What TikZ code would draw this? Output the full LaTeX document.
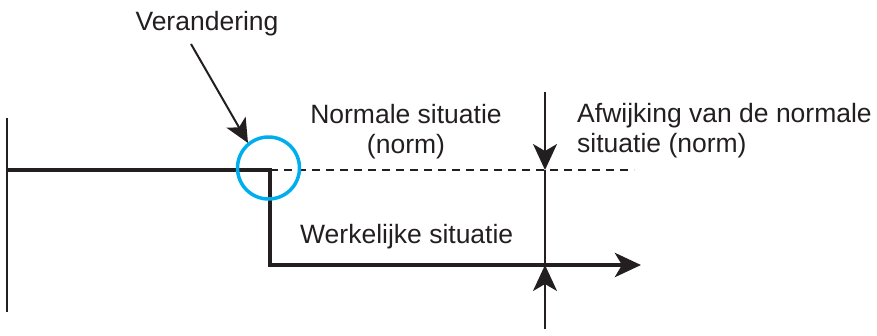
\documentclass[tikz,border=0pt]{standalone}
\usepackage{fontspec}
\setmainfont{Liberation Sans}
\usetikzlibrary{arrows.meta}
\definecolor{ringblue}{HTML}{00AEEF}
\definecolor{ink}{HTML}{231F20}
\tikzset{
  lbl/.style={font=\fontsize{26.5}{30}\selectfont, text=ink, inner sep=0pt},
  thinline/.style={draw=ink, line width=2pt},
  thickline/.style={draw=ink, line width=4.8pt, line join=miter},
  normline/.style={draw=ink, line width=1.6pt, dash pattern=on 8pt off 6pt},
  bigtip/.style={-{Stealth[length=26pt, width=24pt, inset=7pt]}},
}
\begin{document}
\begin{tikzpicture}[x=1pt, y=-1pt]
  \useasboundingbox (0,0) rectangle (877,335);

  % reference points
  \coordinate (axTop) at (7,118);
  \coordinate (axBot) at (7,312);
  \coordinate (start) at (7,170);
  \coordinate (step) at (270,170);
  \coordinate (stepLow) at (270,265);
  \coordinate (realEnd) at (641,265);
  \coordinate (normEnd) at (634,170);
  \coordinate (devTop) at (545,92);
  \coordinate (devHi) at (545,170);
  \coordinate (devLo) at (545,265);
  \coordinate (devBot) at (545,329);
  \coordinate (chgFrom) at (191,44);
  \coordinate (chgTo) at (248,143);

  % vertical axis
  \draw[thinline] (axTop) -- (axBot);

  % norm (dashed continuation)
  \draw[normline] (step) -- (normEnd);

  % actual course with the drop
  \draw[thickline, bigtip] (start) -- (step) -- (stepLow) -- (realEnd);

  % deviation markers
  \draw[thinline, bigtip] (devTop) -- (devHi);
  \draw[thinline, bigtip] (devBot) -- (devLo);
  \draw[thinline] (devHi) -- (devLo);

  % change marker
  \node[draw=ringblue, line width=3.5pt, circle, minimum size=62pt, inner sep=0pt] (ring) at (268.5,168) {};
  \draw[thinline, -{Stealth[length=24pt, width=22pt, inset=6pt]}] (chgFrom) -- (chgTo);

  % labels (base anchor sits on the last line)
  \node[lbl, anchor=base] (chg) at (207,30) {Verandering};
  \node[lbl, anchor=base, align=center] (norm) at (406,153) {Normale situatie\\(norm)};
  \node[lbl, anchor=base west, align=left] (dev) at (577,152) {Afwijking van de normale\\situatie (norm)};
  \node[lbl, anchor=base west] (real) at (300,243) {Werkelijke situatie};
\end{tikzpicture}
\end{document}
